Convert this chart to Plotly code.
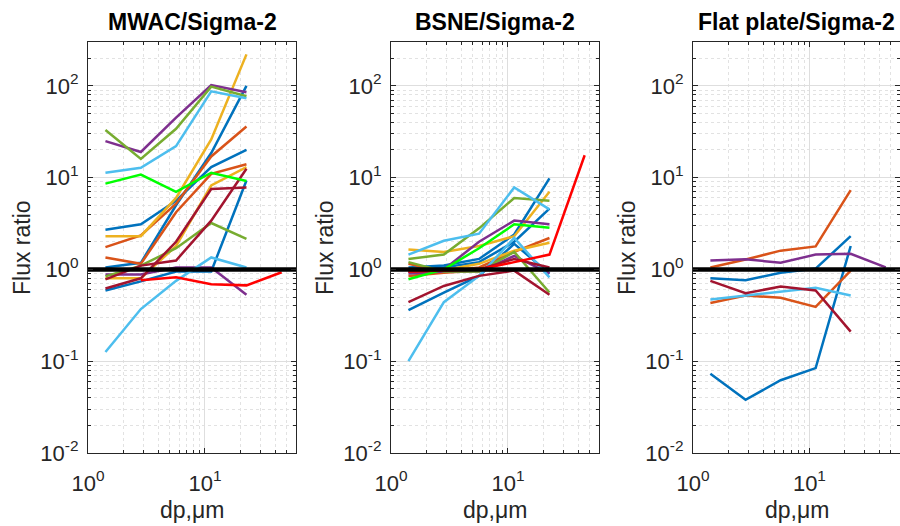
import plotly.graph_objects as go
import numpy as np

# particle diameters (um)
dp = [1.41, 2.83, 5.66, 11.31, 22.63, 45.25]

# ---------- MWAC / Sigma-2 ----------
mwac_series = [
    [2.7, 3.1, 5.6, 13, 20],
    [1.05, 1.18, 5.0, 18.5, 100],
    [0.59, 0.74, 0.95, 0.95, 9.3],
    [1.75, 2.35, 5.2, 17, 36],
    [1.35, 1.15, 4.2, 11, 14],
    [2.3, 2.3, 6.0, 26, 220],
    [0.8, 0.8, 1.8, 8.2, 13],
    [25, 19, 45, 102, 85],
    [0.88, 0.88, 1.05, 1.05, 0.53],
    [33, 16, 34, 98, 77],
    [0.84, 1.1, 1.7, 3.2, 2.15],
    [11.3, 12.8, 22, 87, 73],
    [0.126, 0.37, 0.75, 1.35, 1.05],
    [0.78, 1.1, 1.25, 3.4, 12.5],
    [0.62, 0.8, 2.0, 7.5, 7.8],
    [8.6, 10.8, 7.0, 11.3, 9.2],
    [None, 0.76, 0.82, 0.69, 0.67, 0.93],
]

# ---------- BSNE / Sigma-2 ----------
bsne_series = [
    [1.05, 1.1, 1.3, 2.4, 9.8],
    [0.36, 0.56, 0.85, 1.9, 0.9],
    [1.0, 1.05, 1.2, 2.0, 4.6],
    [1.15, 0.95, 1.05, 1.55, 2.2],
    [0.85, 0.92, 0.97, 1.0, 0.97],
    [1.65, 1.55, 1.8, 2.3, 7.0],
    [1.0, 0.98, 1.15, 1.6, 1.95],
    [0.95, 1.0, 2.0, 3.4, 3.1],
    [0.9, 0.95, 0.95, 1.4, 0.9],
    [1.3, 1.45, 2.8, 6.0, 5.6],
    [1.2, 0.95, 0.95, 1.55, 0.56],
    [1.45, 2.05, 2.45, 7.8, 4.5],
    [0.1, 0.44, 0.85, 2.2, 0.82],
    [0.44, 0.66, 0.85, 0.97, 0.53],
    [0.95, 0.97, 1.0, 1.3, 1.05],
    [0.78, 1.0, 1.7, 3.1, 2.85],
    [0.95, 0.97, 1.0, 1.2, 1.45, 17.5],
]

# ---------- Flat plate / Sigma-2 ----------
flat_series = [
    [0.8, 0.76, 0.92, 1.02, 2.3],
    [0.073, 0.038, 0.062, 0.084, 1.8],
    [1.05, 1.28, 1.6, 1.78, 7.3],
    [0.43, 0.52, 0.49, 0.39, 0.97],
    [1.25, 1.29, 1.18, 1.45, 1.48, 1.05],
    [0.47, 0.52, 0.58, 0.63, 0.52],
    [0.75, 0.55, 0.65, 0.59, 0.21],
]

# reference line
ref_x = [1, 60]
ref_y = [1, 1]

titles = ["MWAC/Sigma-2", "BSNE/Sigma-2", "Flat plate/Sigma-2"]
x_title = "dp,μm"
y_title = "Flux ratio"

# styles
BLUE, ORANGE, YELLOW, PURPLE = "#0072BD", "#D95319", "#EDB120", "#7E2F8E"
OLIVE, LBLUE, DRED, GREEN, RED = "#77AC30", "#4DBEEE", "#A2142F", "#00FF00", "#FF0000"
mwac_colors = [BLUE, BLUE, BLUE, ORANGE, ORANGE, YELLOW, YELLOW, PURPLE, PURPLE,
               OLIVE, OLIVE, LBLUE, LBLUE, DRED, DRED, GREEN, RED]
bsne_colors = mwac_colors
flat_colors = [BLUE, BLUE, ORANGE, ORANGE, PURPLE, LBLUE, DRED]

W, H = 900, 526
x_px = [(88, 296), (391, 599), (693, 900)]
x_domains = [[a / W, b / W] for a, b in x_px]
y_domain = [1 - 453 / H, 1 - 42 / H]

fig = go.Figure()
panels = [(mwac_series, mwac_colors), (bsne_series, bsne_colors), (flat_series, flat_colors)]
for i, (series, colors) in enumerate(panels):
    xa = "x" if i == 0 else f"x{i+1}"
    ya = "y" if i == 0 else f"y{i+1}"
    for vals, col in zip(series, colors):
        fig.add_trace(go.Scatter(x=dp[:len(vals)], y=vals, mode="lines",
                                 line=dict(color=col, width=2.5),
                                 xaxis=xa, yaxis=ya, showlegend=False,
                                 connectgaps=False, hoverinfo="skip"))
    fig.add_trace(go.Scatter(x=ref_x, y=ref_y, mode="lines",
                             line=dict(color="black", width=4.5),
                             xaxis=xa, yaxis=ya, showlegend=False, hoverinfo="skip"))

minor_x = [m * 10 ** e for e in range(0, 2) for m in range(2, 10)]
minor_y = [m * 10 ** e for e in range(-2, 3) for m in range(2, 10)]
TICKC = "#262626"
font_family = "Liberation Sans, Arial, sans-serif"
TICKF = 22

layout = dict(
    width=W, height=H,
    margin=dict(l=0, r=0, t=0, b=0),
    paper_bgcolor="white", plot_bgcolor="white",
    font=dict(family=font_family, size=TICKF, color=TICKC),
    showlegend=False,
)
for i in range(3):
    xk = "xaxis" if i == 0 else f"xaxis{i+1}"
    yk = "yaxis" if i == 0 else f"yaxis{i+1}"
    ya_anchor = "y" if i == 0 else f"y{i+1}"
    xa_anchor = "x" if i == 0 else f"x{i+1}"
    layout[xk] = dict(
        type="log", domain=x_domains[i], anchor=ya_anchor, automargin=False,
        range=[0, np.log10(60)],
        tickvals=[1, 10], ticktext=["10<sup>0</sup>", "10<sup>1</sup>"],
        ticks="inside", ticklen=5, tickcolor=TICKC, tickwidth=1,
        ticklabelstandoff=10,
        showline=True, linecolor=TICKC, linewidth=1.2, mirror="ticks",
        showgrid=True, gridcolor="#dedede", gridwidth=1,
        zeroline=False,
        minor=dict(tickvals=minor_x, ticks="inside", ticklen=3, tickcolor=TICKC,
                   showgrid=True, gridcolor="#e2e2e2", griddash="dot", gridwidth=1),
        tickfont=dict(size=TICKF, color=TICKC),
    )
    layout[yk] = dict(
        type="log", domain=y_domain, anchor=xa_anchor, automargin=False,
        range=[-2, np.log10(300)],
        tickvals=[0.01, 0.1, 1, 10, 100],
        ticktext=["10<sup>-2</sup>", "10<sup>-1</sup>", "10<sup>0</sup>",
                  "10<sup>1</sup>", "10<sup>2</sup>"],
        ticks="inside", ticklen=5, tickcolor=TICKC, tickwidth=1,
        ticklabelstandoff=4,
        showline=True, linecolor=TICKC, linewidth=1.2, mirror="ticks",
        showgrid=True, gridcolor="#dedede", gridwidth=1,
        zeroline=False,
        minor=dict(tickvals=minor_y, ticks="inside", ticklen=3, tickcolor=TICKC,
                   showgrid=True, gridcolor="#e2e2e2", griddash="dot", gridwidth=1),
        tickfont=dict(size=TICKF, color=TICKC),
    )

annotations = []
for i, t in enumerate(titles):
    left, right = x_px[i]
    cx = (left + right) / 2 / W
    annotations.append(dict(text=f"<b>{t}</b>", x=cx, y=1 - 22 / H,
                            xref="paper", yref="paper", showarrow=False,
                            xanchor="center", yanchor="middle",
                            font=dict(size=23, color="black", family=font_family)))
    annotations.append(dict(text=x_title, x=cx, y=1 - 510 / H,
                            xref="paper", yref="paper", showarrow=False,
                            xanchor="center", yanchor="middle",
                            font=dict(size=23, color=TICKC, family=font_family)))
    annotations.append(dict(text=y_title, x=(left - 66) / W, y=1 - 248 / H,
                            xref="paper", yref="paper", showarrow=False,
                            xanchor="center", yanchor="middle", textangle=-90,
                            font=dict(size=23, color=TICKC, family=font_family)))
layout["annotations"] = annotations

fig.update_layout(**layout)
fig.write_html("out.html")
